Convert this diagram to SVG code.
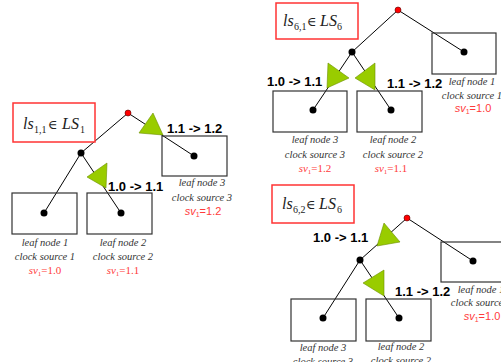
<svg xmlns="http://www.w3.org/2000/svg" width="501" height="362" viewBox="0 0 501 362">
<style>
.bg{fill:#fff}
.box{fill:none;stroke:#333;stroke-width:1.2}
.redbox{fill:#fff;stroke:#f33;stroke-width:1.5}
.edge{stroke:#000;stroke-width:1;fill:none}
.tri{fill:#99cc00;stroke:#6b8f00;stroke-width:0.6}
.dot{fill:#000}
.root{fill:#f00;stroke:#500;stroke-width:0.6}
.lbl{font-family:'Liberation Sans',sans-serif;font-weight:bold;font-size:13px;fill:#000}
.leaf{font-family:'Liberation Serif','DejaVu Serif',serif;font-style:italic;font-size:10.5px;fill:#333;text-anchor:middle}
.svr{font-family:'Liberation Serif','DejaVu Serif',serif;font-size:11px;fill:#ff3b3b;text-anchor:middle}
.svs{font-family:'Liberation Sans',sans-serif;font-size:11px;fill:#ff3b3b;text-anchor:middle}
.ls{font-family:'Liberation Serif','DejaVu Serif',serif;font-size:16px;fill:#222}
.el{font-size:13px}
.it{font-style:italic}
</style>
<rect class="bg" x="0" y="0" width="501" height="362"/>

<g id="connectors">
  <line class="edge" x1="128" y1="113" x2="81" y2="153"/>
  <line class="edge" x1="128" y1="113" x2="194" y2="156"/>
  <line class="edge" x1="81" y1="153" x2="44" y2="213"/>
  <line class="edge" x1="81" y1="153" x2="121" y2="213"/>
  <line class="edge" x1="398" y1="10" x2="352" y2="52"/>
  <line class="edge" x1="398" y1="10" x2="464" y2="52"/>
  <line class="edge" x1="352" y1="52" x2="313" y2="110"/>
  <line class="edge" x1="352" y1="52" x2="391" y2="110"/>
  <line class="edge" x1="407" y1="218" x2="360" y2="260"/>
  <line class="edge" x1="407" y1="218" x2="473" y2="261"/>
  <line class="edge" x1="360" y1="260" x2="323" y2="318"/>
  <line class="edge" x1="360" y1="260" x2="399" y2="318"/>
  <polygon class="tri" points="153,113 139,133 163,135"/>
  <polygon class="tri" points="107,163 87,177 106,188"/>
  <polygon class="tri" points="328,63 327,88 349,78"/>
  <polygon class="tri" points="375,63 355,78 375,90"/>
  <polygon class="tri" points="384,223 377,246 400,242"/>
  <polygon class="tri" points="384,270 363,283 384,296"/>
  <text class="lbl" x="167" y="133">1.1 -&gt; 1.2</text>
  <text class="lbl" x="108" y="191">1.0 -&gt; 1.1</text>
  <text class="lbl" x="267" y="86">1.0 -&gt; 1.1</text>
  <text class="lbl" x="387" y="88">1.1 -&gt; 1.2</text>
  <text class="lbl" x="313" y="242">1.0 -&gt; 1.1</text>
  <text class="lbl" x="395" y="296">1.1 -&gt; 1.2</text>
</g>

<g id="title-ls11">
  <rect class="redbox" x="13" y="103" width="82" height="39"/>
  <text class="ls" y="129"><tspan x="23" class="it">ls</tspan><tspan x="34" dy="4" font-size="10">1,1</tspan><tspan x="48" dy="-4" class="el">∈</tspan><tspan x="62" class="it">LS</tspan><tspan x="80" dy="4" font-size="10">1</tspan></text>
</g>
<g id="L-root"><circle class="root" cx="128" cy="113" r="3"/></g>
<g id="L-internal"><circle class="dot" cx="81" cy="153" r="3.5"/></g>
<g id="L-leaf1">
  <rect class="box" x="12" y="193" width="65" height="41"/>
  <circle class="dot" cx="44" cy="213" r="3.5"/>
  <text class="leaf" x="45" y="246">leaf node 1</text>
  <text class="leaf" x="45" y="260">clock source 1</text>
  <text class="svr" x="45" y="274"><tspan class="it">sv</tspan><tspan font-size="7" dy="2">1</tspan><tspan dy="-2">=1.0</tspan></text>
</g>
<g id="L-leaf2">
  <rect class="box" x="87" y="193" width="65" height="41"/>
  <circle class="dot" cx="121" cy="213" r="3.5"/>
  <text class="leaf" x="123" y="246">leaf node 2</text>
  <text class="leaf" x="123" y="260">clock source 2</text>
  <text class="svr" x="123" y="274"><tspan class="it">sv</tspan><tspan font-size="7" dy="2">1</tspan><tspan dy="-2">=1.1</tspan></text>
</g>
<g id="L-leaf3">
  <rect class="box" x="162" y="136" width="65" height="40"/>
  <circle class="dot" cx="194" cy="156" r="3.5"/>
  <text class="leaf" x="202" y="186">leaf node 3</text>
  <text class="leaf" x="202" y="201">clock source 3</text>
  <text class="svs" x="203" y="215"><tspan class="it">sv</tspan><tspan font-size="7" dy="2">1</tspan><tspan dy="-2">=1.2</tspan></text>
</g>

<g id="title-ls61">
  <rect class="redbox" x="276" y="3" width="82" height="36"/>
  <text class="ls" y="26"><tspan x="283" class="it">ls</tspan><tspan x="294" dy="4" font-size="10">6,1</tspan><tspan x="307" dy="-4" class="el">∈</tspan><tspan x="320" class="it">LS</tspan><tspan x="337" dy="4" font-size="10">6</tspan></text>
</g>
<g id="T-root"><circle class="root" cx="398" cy="10" r="3"/></g>
<g id="T-internal"><circle class="dot" cx="352" cy="52" r="3.5"/></g>
<g id="T-leaf3">
  <rect class="box" x="273" y="91" width="74" height="41"/>
  <circle class="dot" cx="313" cy="110" r="3.5"/>
  <text class="leaf" x="315" y="143">leaf node 3</text>
  <text class="leaf" x="315" y="158">clock source 3</text>
  <text class="svr" x="315" y="172"><tspan class="it">sv</tspan><tspan font-size="7" dy="2">1</tspan><tspan dy="-2">=1.2</tspan></text>
</g>
<g id="T-leaf2">
  <rect class="box" x="357" y="91" width="65" height="41"/>
  <circle class="dot" cx="391" cy="110" r="3.5"/>
  <text class="leaf" x="393" y="143">leaf node 2</text>
  <text class="leaf" x="393" y="158">clock source 2</text>
  <text class="svr" x="391" y="172"><tspan class="it">sv</tspan><tspan font-size="7" dy="2">1</tspan><tspan dy="-2">=1.1</tspan></text>
</g>
<g id="T-leaf1">
  <rect class="box" x="432" y="33" width="64" height="41"/>
  <circle class="dot" cx="464" cy="52" r="3.5"/>
  <text class="leaf" x="472" y="85">leaf node 1</text>
  <text class="leaf" x="472" y="99">clock source 1</text>
  <text class="svs" x="473" y="112"><tspan class="it">sv</tspan><tspan font-size="7" dy="2">1</tspan><tspan dy="-2">=1.0</tspan></text>
</g>

<g id="title-ls62">
  <rect class="redbox" x="272" y="185" width="82" height="38"/>
  <text class="ls" y="209"><tspan x="282" class="it">ls</tspan><tspan x="293" dy="4" font-size="10">6,2</tspan><tspan x="306" dy="-4" class="el">∈</tspan><tspan x="319" class="it">LS</tspan><tspan x="337" dy="4" font-size="10">6</tspan></text>
</g>
<g id="B-root"><circle class="root" cx="407" cy="218" r="3"/></g>
<g id="B-internal"><circle class="dot" cx="360" cy="260" r="3.5"/></g>
<g id="B-leaf3">
  <rect class="box" x="291" y="299" width="65" height="42"/>
  <circle class="dot" cx="323" cy="318" r="3.5"/>
  <text class="leaf" x="323" y="351">leaf node 3</text>
  <text class="leaf" x="323" y="365">clock source 3</text>
</g>
<g id="B-leaf2">
  <rect class="box" x="366" y="299" width="65" height="42"/>
  <circle class="dot" cx="399" cy="318" r="3.5"/>
  <text class="leaf" x="401" y="350">leaf node 2</text>
  <text class="leaf" x="401" y="364">clock source 2</text>
</g>
<g id="B-leaf1">
  <rect class="box" x="441" y="242" width="70" height="40"/>
  <circle class="dot" cx="473" cy="261" r="3.5"/>
  <text class="leaf" x="481" y="293">leaf node 1</text>
  <text class="leaf" x="481" y="306">clock source 1</text>
  <text class="svs" x="482" y="320"><tspan class="it">sv</tspan><tspan font-size="7" dy="2">1</tspan><tspan dy="-2">=1.0</tspan></text>
</g>
</svg>
